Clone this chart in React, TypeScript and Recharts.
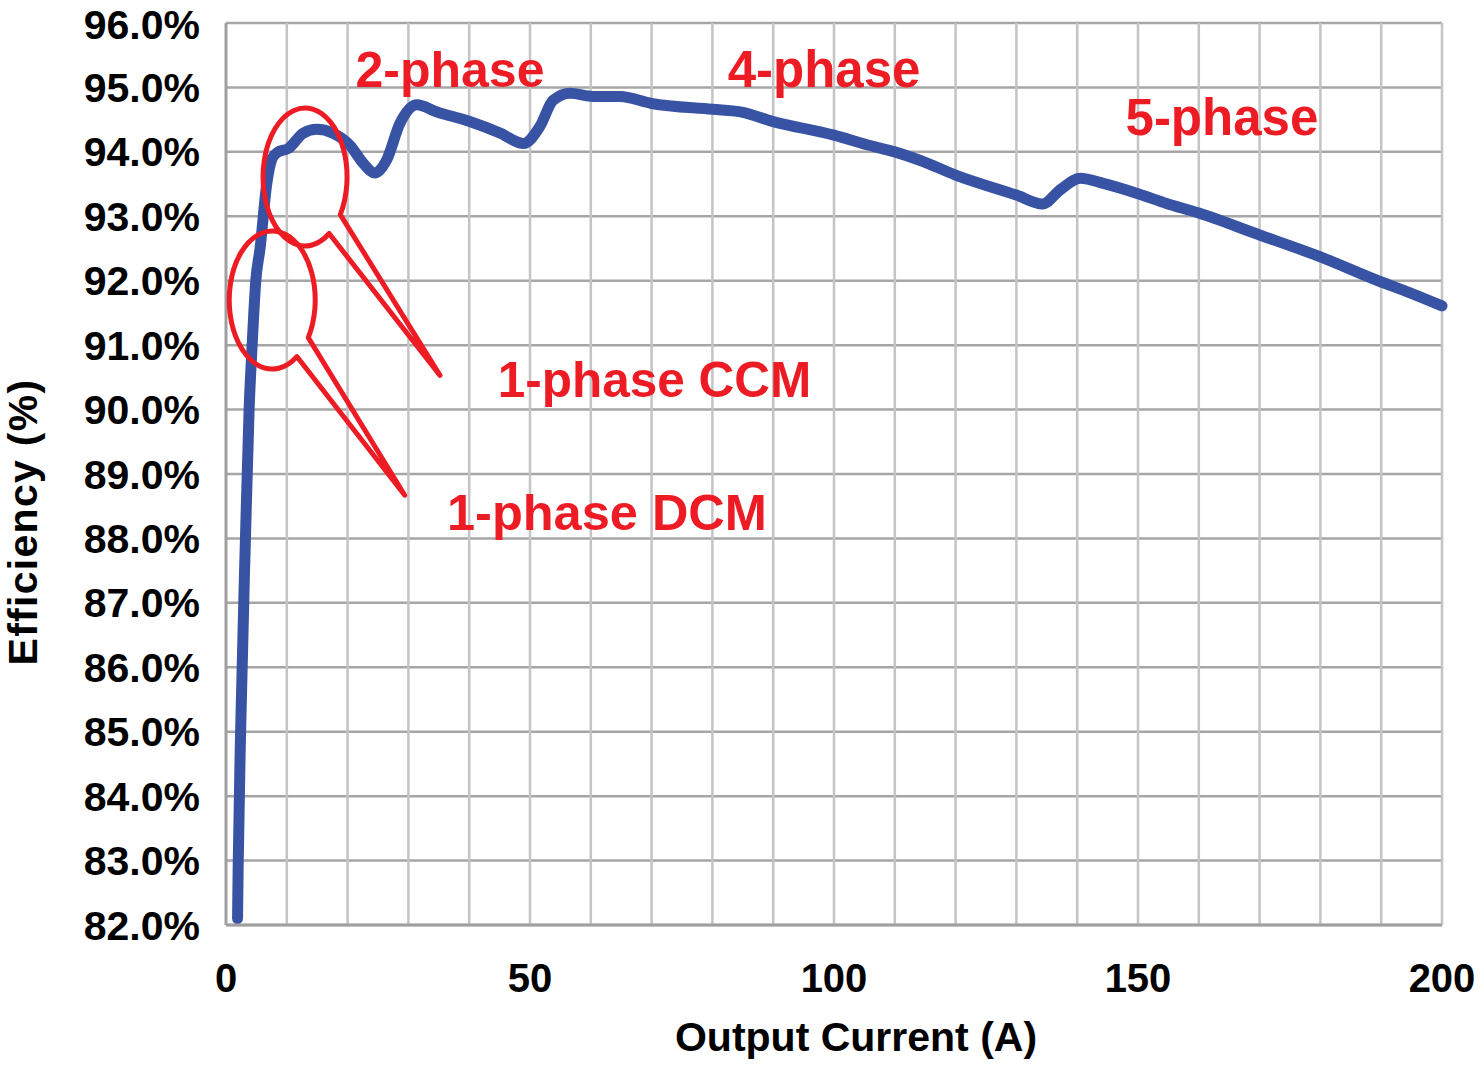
import React from "react";
import {
  CartesianGrid,
  Line,
  LineChart,
  ReferenceLine,
  XAxis,
  YAxis,
} from "recharts";

// output current (A) and measured efficiency (%)
const currentA = [
  1.9, 2.0, 2.4, 3.2, 3.8, 4.3, 4.9, 5.6, 6.7, 7.6, 8.6, 10.2, 12.7, 14.9, 17.6,
  20.4, 22.6, 24.5, 26.4, 28.6, 31.4, 34.7, 40.1, 45.1, 48.9, 51.6, 53.8, 56.6,
  60.4, 64.8, 70, 80, 84.6, 90, 100, 105.4, 110, 114.1, 120, 130, 134.3, 137.2,
  140.5, 144.3, 150, 154.7, 160, 170, 180, 190, 194, 200,
];
const efficiency = [
  82.1, 82.9, 85.0, 88.0, 90.0, 91.0, 92.0, 92.5, 93.5, 93.9, 94.0, 94.05,
  94.29, 94.35, 94.29, 94.1, 93.82, 93.67, 93.87, 94.44, 94.73, 94.62, 94.47,
  94.29, 94.13, 94.39, 94.8, 94.91, 94.86, 94.86, 94.75, 94.66, 94.62, 94.47,
  94.26, 94.11, 94.0, 93.87, 93.64, 93.33, 93.19, 93.41, 93.59, 93.51, 93.35,
  93.2, 93.05, 92.71, 92.37, 91.98, 91.84, 91.61,
];

const xTicks = [0, 50, 100, 150, 200];
const yTicks = [82, 83, 84, 85, 86, 87, 88, 89, 90, 91, 92, 93, 94, 95, 96];
const gridAmps = [10, 20, 30, 40, 50, 60, 70, 80, 90, 100, 110, 120, 130, 140, 150, 160, 170, 180, 190, 200];

// label anchor = centre x / baseline, in data units
const phaseLabels = [
  { text: "2-phase", a: 36.84, e: 95.01, size: 50 },
  { text: "4-phase", a: 98.36, e: 95.01, size: 51 },
  { text: "5-phase", a: 163.8, e: 94.26, size: 51 },
  { text: "1-phase CCM", a: 70.48, e: 90.2, size: 49.5 },
  { text: "1-phase DCM", a: 62.66, e: 88.13, size: 50.5 },
];

// callout bubbles: centre (A, %), radii in px, tip (A, %)
const callouts = [
  { a: 13, e: 93.61, rx: 42, ry: 69, tipA: 35.2, tipE: 90.53 },
  { a: 7.6, e: 91.7, rx: 43, ry: 69, tipA: 29.4, tipE: 88.67 },
];

const data = currentA.map((a, i) => ({ a, eff: efficiency[i] }));

const W = 1481;
const H = 1065;
const M = { top: 23, right: 39, left: 0, bottom: 0 };
const Y_W = 226;
const X_H = 140;
const plotL = M.left + Y_W;
const plotR = W - M.right;
const plotT = M.top;
const plotB = H - M.bottom - X_H;

const FONT = "'Liberation Sans', Arial, Helvetica, sans-serif";
const RED = "#ed1c24";

const px = (a: number) => plotL + (a / 200) * (plotR - plotL);
const py = (e: number) => plotT + ((96 - e) / 14) * (plotB - plotT);

function bubble(c: (typeof callouts)[number]) {
  const cx = px(c.a);
  const cy = py(c.e);
  const pt = (deg: number) => {
    const r = (deg * Math.PI) / 180;
    return [cx + c.rx * Math.cos(r), cy + c.ry * Math.sin(r)];
  };
  const [x1, y1] = pt(33);
  const [x2, y2] = pt(55);
  const tx = px(c.tipA);
  const ty = py(c.tipE);
  return `M ${x1} ${y1} L ${tx} ${ty} L ${x2} ${y2} A ${c.rx} ${c.ry} 0 1 1 ${x1} ${y1} Z`;
}

export default function App() {
  return (
    <div style={{ position: "absolute", left: 0, top: 0, width: W, height: H, background: "#fff" }}>
      <LineChart width={W} height={H} data={data} margin={M}>
        <CartesianGrid vertical={false} stroke="#a6a6a6" strokeWidth={2.5} />
        {gridAmps.map((g) => (
          <ReferenceLine key={g} x={g} stroke="#c4c4c6" strokeWidth={2.5} ifOverflow="extendDomain" />
        ))}
        <XAxis
          dataKey="a"
          type="number"
          domain={[0, 200]}
          ticks={xTicks}
          height={X_H}
          tickSize={6}
          tickMargin={33}
          tickLine={false}
          axisLine={{ stroke: "#a0a0a2", strokeWidth: 3 }}
          tick={{ fill: "#000", fontSize: 40, fontWeight: 700, fontFamily: FONT }}
        />
        <YAxis
          type="number"
          domain={[82, 96]}
          ticks={yTicks}
          width={Y_W}
          tickSize={6}
          tickMargin={20}
          tickLine={false}
          axisLine={{ stroke: "#a0a0a2", strokeWidth: 3 }}
          tickFormatter={(v: number) => `${v.toFixed(1)}%`}
          tick={{ fill: "#000", fontSize: 41, fontWeight: 700, fontFamily: FONT }}
        />
        <Line
          type="monotone"
          dataKey="eff"
          stroke="#3953a4"
          strokeWidth={11}
          strokeLinecap="round"
          strokeLinejoin="round"
          dot={false}
          activeDot={false}
          isAnimationActive={false}
        />
      </LineChart>
      <svg
        width={W}
        height={H}
        style={{ position: "absolute", left: 0, top: 0, pointerEvents: "none" }}
      >
        {callouts.map((c, i) => (
          <path key={i} d={bubble(c)} fill="none" stroke={RED} strokeWidth={5} strokeLinejoin="round" />
        ))}
        {phaseLabels.map((l) => (
          <text
            key={l.text}
            x={px(l.a)}
            y={py(l.e)}
            textAnchor="middle"
            fill={RED}
            fontSize={l.size}
            fontWeight={700}
            fontFamily={FONT}
          >
            {l.text}
          </text>
        ))}
        <text
          x={856}
          y={1051}
          textAnchor="middle"
          fill="#000"
          fontSize={41}
          fontWeight={700}
          fontFamily={FONT}
        >
          Output Current (A)
        </text>
        <text
          transform="translate(37 522) rotate(-90)"
          textAnchor="middle"
          fill="#000"
          fontSize={41}
          fontWeight={700}
          fontFamily={FONT}
          letterSpacing={1.3}
        >
          Efficiency (%)
        </text>
      </svg>
    </div>
  );
}
